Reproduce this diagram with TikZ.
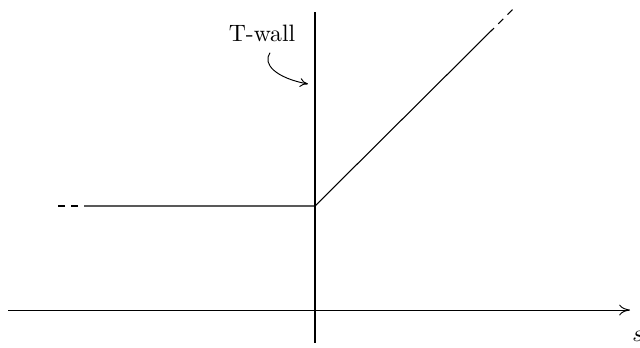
\documentclass[tikz,border=0pt]{standalone}
\usepackage{amsmath,amssymb}
\usetikzlibrary{arrows.meta,calc,positioning}
\tikzset{
  wallline/.style={line width=1.25pt},
  curveline/.style={line width=0.45pt},
  dashend/.style={line width=0.45pt,dash pattern=on 3pt off 2.5pt,dash phase=3pt},
  axisline/.style={-{To[length=1.6mm,width=1.6mm]},line width=0.4pt},
  pointer/.style={-{To[length=1.2mm,width=1.3mm]},line width=0.4pt},
}

\begin{document}
\begin{tikzpicture}[x=0.422pt,y=-0.422pt]
  \useasboundingbox (0,0) rectangle (640,347);

  \coordinate (axL) at (8,310);
  \coordinate (axR) at (630,310);
  \coordinate (wallTop) at (315,12);
  \coordinate (wallBot) at (315,343);
  \coordinate (kink) at (315,206);
  \coordinate (flatEnd) at (84,206);
  \coordinate (flatDash) at (57,206);
  \coordinate (slopeEnd) at (494,28);
  \coordinate (slopeDash) at (513,9);

  % Axis and wall.
  \draw[axisline] (axL) -- (axR);
  \node[anchor=north west,inner sep=0pt] (slabel) at (632,331) {$s$};
  \draw[wallline] (wallTop) -- (wallBot);

  % The broken curve with its dashed ends.
  \draw[curveline] (flatEnd) -- (kink) -- (slopeEnd);
  \draw[dashend] (flatEnd) -- (flatDash);
  \draw[dashend] (slopeEnd) -- (slopeDash);

  % Label pointing at the wall.
  \node (twall) at (262,33) {T-wall};
  \coordinate (tip) at (308,84);
  \draw[pointer] ($(twall.south)+(8,3)$)
    .. controls (262,64) and (276,78) .. (tip);
\end{tikzpicture}
\end{document}
